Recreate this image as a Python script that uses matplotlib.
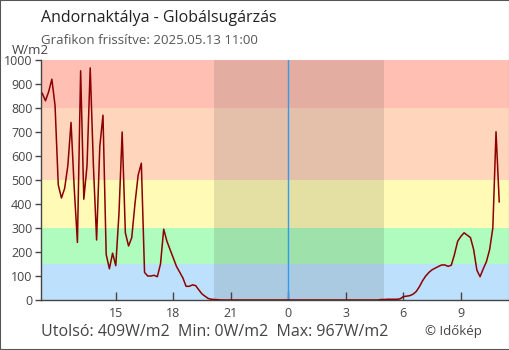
# Globálsugárzás (global radiation) chart, last 24 hours.

import numpy as np
import matplotlib
matplotlib.use("Agg")
import matplotlib.pyplot as plt

# Data: 10-minute readings, first one at 11:10 of the previous day
start_hour = -12.0 - 50.0/60.0   # hours relative to midnight
step_hour = 10.0/60.0
radiation = [
    861, 830, 868, 920, 810, 480, 425, 465, 560, 740,
    465, 240, 955, 420, 560, 967, 560, 250, 640, 770,
    190, 130, 195, 143, 360, 700, 280, 225, 260, 400,
    520, 570, 115, 100, 100, 103, 97, 150, 295, 245,
    210, 174, 140, 116, 92, 57, 57, 63, 60, 42,
    25, 15, 6, 3, 2, 1, 0, 0, 0, 0,
    0, 0, 0, 0, 0, 0, 0, 0, 0, 0,
    0, 0, 0, 0, 0, 0, 0, 0, 0, 0,
    0, 0, 0, 0, 0, 0, 0, 0, 0, 0,
    0, 0, 0, 0, 0, 0, 0, 0, 0, 0,
    0, 0, 0, 0, 0, 0, 2, 2, 3, 3,
    3, 3, 5, 14, 16, 18, 24, 35, 55, 80,
    100, 115, 126, 133, 140, 146, 146, 140, 145, 190,
    245, 265, 280, 270, 260, 210, 125, 97, 130, 160,
    210, 300, 701, 409,
]

# Colour bands (W/m2)
band_edges = [0, 150, 300, 500, 800, 1000]
band_colors = ["#bde1fc", "#b0fcbe", "#fffbb6", "#ffd5bb", "#ffc0b3"]

# Night (sunset / sunrise, hours relative to midnight)
sunset = -3.88
sunrise = 4.99

tick_pos = [-9, -6, -3, 0, 3, 6, 9]
tick_labels = ["15", "18", "21", "0", "3", "6", "9"]

plt.rcParams["font.family"] = ["Open Sans", "DejaVu Sans"]


def main():
    times = start_hour + step_hour*np.arange(len(radiation))

    fig = plt.figure(figsize=(5.1, 3.5), dpi=100)
    ax = fig.add_axes([41/510, 50/350, 468/510, 240/350])

    # Background bands
    for lo, hi, c in zip(band_edges[:-1], band_edges[1:], band_colors):
        ax.axhspan(lo, hi, color=c, lw=0, zorder=0)
    ax.axvspan(sunset, sunrise, color="#303030", alpha=0.13, lw=0, zorder=1)
    ax.axvline(0, color="#3399ee", lw=1.0, zorder=2)

    ax.plot(times, radiation, color="#8b0000", lw=1.1, zorder=3)

    ax.set_xlim(-12.9, 11.51)
    ax.set_ylim(0, 1000)
    ax.set_yticks(np.arange(0, 1001, 100))
    ax.set_xticks(tick_pos)
    ax.set_xticklabels(tick_labels)
    ax.tick_params(axis="y", direction="out", length=4, width=1,
                   color="#444444", labelcolor="#444444", labelsize=9, pad=2)
    ax.tick_params(axis="x", direction="in", length=6, width=1,
                   color="#444444", labelcolor="#444444", labelsize=9, pad=5)
    for s in ["top", "right"]:
        ax.spines[s].set_visible(False)
    for s in ["left", "bottom"]:
        ax.spines[s].set_color("#444444")
        ax.spines[s].set_linewidth(1.0)

    # Texts
    fig.text(41/510, 1 - 18/350, "Andornaktálya - Globálsugárzás",
             fontsize=11.5, color="#222222", va="center", ha="left")
    fig.text(41/510, 1 - 41/350, "Grafikon frissítve: 2025.05.13 11:00",
             fontsize=9.5, color="#555555", va="center", ha="left")
    fig.text(12/510, 1 - 50/350, "W/m2", fontsize=9.5, color="#444444",
             va="center", ha="left")
    fig.text(41/510, 1 - 332/350,
             "Utolsó: 409W/m2  Min: 0W/m2  Max: 967W/m2",
             fontsize=11.5, color="#444444", va="center", ha="left")
    fig.text(425/510, 1 - 331/350, "© Időkép", fontsize=9.5,
             color="#444444", va="center", ha="left")

    # Outer frame
    fig.patches.append(plt.Rectangle((0, 0), 1, 1, transform=fig.transFigure,
                                     fill=False, ec="#555555", lw=1.5))

    fig.savefig("out.png", dpi=100)


if __name__ == "__main__":
    main()
